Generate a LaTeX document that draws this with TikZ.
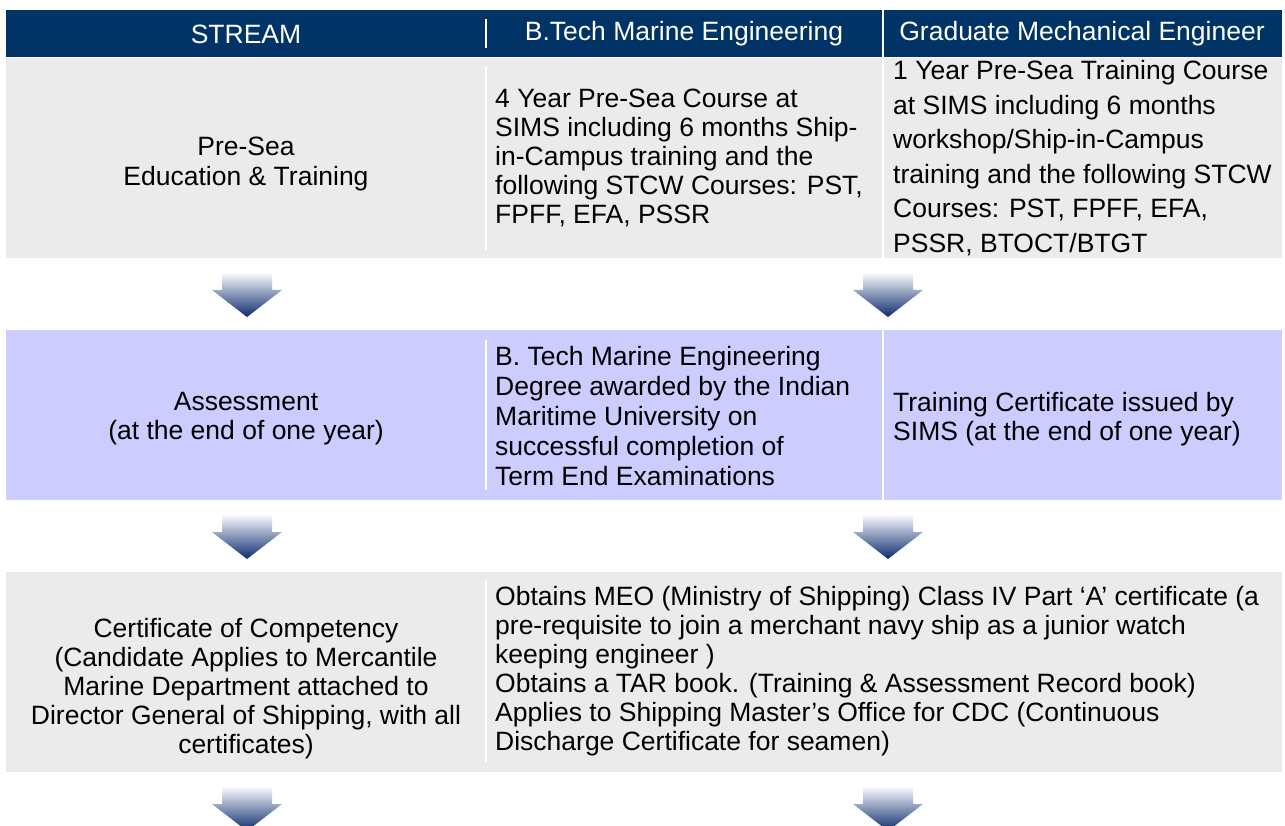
\documentclass[tikz,border=0pt]{standalone}
\usepackage{fontspec}
\setmainfont{Liberation Sans}
\definecolor{headblue}{HTML}{003366}
\definecolor{rowgrey}{HTML}{EBEBEB}
\definecolor{rowlilac}{HTML}{CCCCFF}
\definecolor{arrowdark}{HTML}{0B2A6F}
\definecolor{arrowmid}{HTML}{6A82BE}
\tikzset{
  txt/.style={font=\fontsize{26.5}{29}\selectfont, inner sep=0pt},
  lefttxt/.style={txt, anchor=west, align=left},
  midtxt/.style={txt, align=center},
  colsep/.style={white, line width=1.2pt},
}

\begin{document}
\begin{tikzpicture}[x=1pt,y=-1pt]
  \useasboundingbox (0,0) rectangle (1285,826);
  \fill[headblue] (6,10) rectangle (1282,57);
  \fill[rowgrey] (6,58) rectangle (1282,258);
  \fill[rowlilac] (6,330) rectangle (1282,500);
  \fill[rowgrey] (6,572) rectangle (1282,772);

  \draw[colsep] (486,19) -- (486,48);
  \draw[colsep] (883,10) -- (883,57);
  \draw[colsep] (486,67) -- (486,250);
  \draw[colsep] (883,58) -- (883,258);
  \draw[colsep] (486,340) -- (486,490);
  \draw[colsep] (883,330) -- (883,500);
  \draw[colsep] (486,580) -- (486,762);

  \node[midtxt, white] (stream) at (246,34) {STREAM};
  \node[midtxt, white] (btech) at (684,34) {B.Tech Marine Engineering};
  \node[midtxt, white] (gme) at (1082,34) {Graduate Mechanical Engineer};

  \node[midtxt] (presea) at (246,164) {Pre-Sea\\Education \& Training};
  \node[lefttxt] (presea-b) at (495,158) {4 Year Pre-Sea Course at\\SIMS including 6 months Ship-\\in-Campus training and the\\following STCW Courses: PST,\\FPFF, EFA, PSSR};
  \node[lefttxt, font=\fontsize{26.5}{34.6}\selectfont] (presea-g) at (893,158) {1 Year Pre-Sea Training Course\\at SIMS including 6 months\\workshop/Ship-in-Campus\\training and the following STCW\\Courses: PST, FPFF, EFA,\\PSSR, BTOCT/BTGT};

  \node[midtxt] (assess) at (246,419) {Assessment\\(at the end of one year)};
  \node[lefttxt, font=\fontsize{26.5}{30.2}\selectfont] (assess-b) at (495,416) {B. Tech Marine Engineering\\Degree awarded by the Indian\\Maritime University on\\successful completion of\\Term End Examinations};
  \node[lefttxt] (assess-g) at (893,419) {Training Certificate issued by\\SIMS (at the end of one year)};

  \node[midtxt] (coc) at (246,689) {Certificate of Competency\\(Candidate Applies to Mercantile\\Marine Department attached to\\Director General of Shipping, with all\\certificates)};
  \node[lefttxt] (coc-info) at (495,671) {Obtains MEO (Ministry of Shipping) Class IV Part ‘A’ certificate (a\\pre-requisite to join a merchant navy ship as a junior watch\\keeping engineer )\\Obtains a TAR book. (Training \& Assessment Record book)\\Applies to Shipping Master’s Office for CDC (Continuous\\Discharge Certificate for seamen)};

  \foreach \ax/\ay in {247/272, 888/272, 247/514, 888/514, 247/786, 888/786}{
    \shade[top color=white, middle color=arrowmid, bottom color=arrowdark]
      (\ax-25,\ay) -- (\ax+25,\ay) -- (\ax+25,\ay+18) -- (\ax+35,\ay+18)
      -- (\ax,\ay+45) -- (\ax-35,\ay+18) -- (\ax-25,\ay+18) -- cycle;
  }
\end{tikzpicture}
\end{document}
